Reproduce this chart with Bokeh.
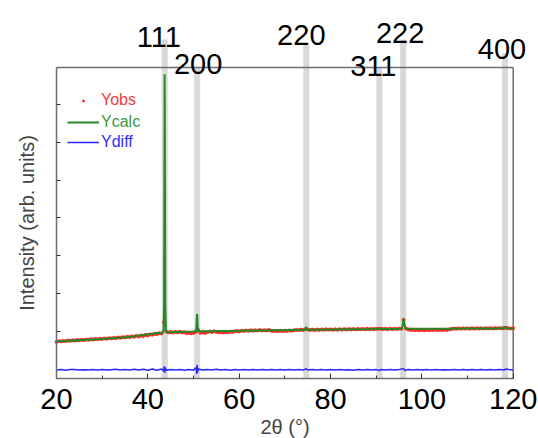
import numpy as np
from bokeh.plotting import figure
from bokeh.models import (Range1d, FixedTicker, SingleIntervalTicker,
                          Legend, LegendItem, ColumnDataSource, CustomJSTickFormatter)
from bokeh.core.properties import value
from bokeh.embed import file_html
from bokeh.resources import INLINE

# ---------------- data ----------------
TWO_THETA_OBS = 20 + 0.5 * np.arange(201)
Y_OBS = [
    735, 752, 748, 760, 755, 770, 762, 776, 770, 782,
    779, 790, 784, 796, 792, 803, 797, 810, 806, 815,
    812, 824, 818, 830, 826, 840, 834, 850, 844, 858,
    853, 868, 862, 880, 872, 895, 880, 902, 890, 918,
    905, 932, 925, 945, 940, 962, 958, 1250, 1010, 985,
    995, 980, 998, 985, 1000, 982, 990, 965, 975, 962,
    972, 1000, 1050, 975, 985, 970, 990, 1008, 995, 1015,
    1000, 985, 995, 982, 998, 990, 1005, 995, 1015, 1020,
    1010, 1030, 1022, 1035, 1025, 1040, 1030, 1042, 1034, 1046,
    1036, 1044, 1038, 1050, 1030, 1020, 1025, 1015, 1028, 1020,
    1030, 1022, 1035, 1028, 1040, 1050, 1045, 1058, 1050, 1065,
    1062, 1048, 1058, 1045, 1060, 1050, 1062, 1055, 1066, 1058,
    1062, 1052, 1066, 1056, 1068, 1058, 1070, 1060, 1072, 1062,
    1074, 1064, 1076, 1066, 1077, 1066, 1078, 1068, 1079, 1069,
    1080, 1078, 1080, 1072, 1082, 1068, 1083, 1070, 1084, 1072,
    1085, 1080, 1320, 1088, 1060, 1050, 1055, 1045, 1052, 1043,
    1052, 1042, 1050, 1044, 1052, 1045, 1054, 1046, 1055, 1048,
    1056, 1050, 1062, 1075, 1088, 1080, 1090, 1082, 1091, 1083,
    1092, 1084, 1093, 1085, 1094, 1086, 1094, 1087, 1095, 1088,
    1096, 1089, 1097, 1090, 1098, 1091, 1100, 1105, 1092, 1088,
    1094,
]

TWO_THETA_CALC = [
    20, 22, 24, 26, 28, 30, 32, 34, 36, 38,
    40, 42, 43.2, 43.45, 43.55, 43.62, 43.68, 43.74, 43.82, 43.95,
    44.2, 45, 46, 48, 50, 50.5, 50.65, 50.78, 50.9, 51.1,
    52, 54, 56, 58, 60, 62, 64, 66, 68, 70,
    72, 74, 74.45, 74.65, 74.85, 75.2, 76, 78, 80, 82,
    84, 86, 88, 90, 90.5, 90.7, 90.9, 91.2, 92, 94,
    95.6, 95.85, 96.0, 96.15, 96.4, 97, 98, 100, 102, 104,
    106, 108, 110, 112, 114, 116, 118, 118.25, 118.5, 119,
    120,
]
Y_CALC = [
    744, 757, 771, 785, 798, 812, 828, 846, 866, 900,
    935, 962, 978, 1040, 1600, 4800, 7790, 5200, 1700, 1060,
    990, 992, 996, 1002, 1006, 1012, 1120, 1466, 1130, 1018,
    1012, 1016, 1020, 1024, 1028, 1031, 1034, 1037, 1040, 1043,
    1046, 1049, 1055, 1132, 1060, 1051, 1052, 1055, 1058, 1062,
    1066, 1068, 1070, 1072, 1078, 1105, 1080, 1073, 1074, 1076,
    1082, 1200, 1335, 1210, 1085, 1079, 1080, 1081, 1082, 1083,
    1084, 1085, 1086, 1087, 1088, 1089, 1092, 1140, 1095, 1090,
    1090,
]

TWO_THETA_DIFF = [
    20, 21, 22, 23, 24, 25, 26, 27, 28, 29, 30, 31, 32, 33, 34, 35, 36, 37, 38, 39,
    40, 41, 42, 43, 43.5, 43.6, 43.7, 43.8, 44, 45, 46, 47, 48, 49, 50,
    50.6, 50.7, 50.8, 50.9, 51, 52, 53, 54, 55, 56, 57, 58, 59, 60, 61, 62, 63, 64,
    65, 66, 67, 68, 69, 70, 71, 72, 73, 74, 74.7, 75, 76, 77, 78, 79, 80, 81, 82,
    83, 84, 85, 86, 87, 88, 89, 90, 90.7, 91, 92, 93, 94, 95, 96, 96.3, 97, 98, 99,
    100, 101, 102, 103, 104, 105, 106, 107, 108, 109, 110, 111, 112, 113, 114, 115,
    116, 117, 118, 118.3, 119, 120,
]
Y_DIFF = [
    -5, 8, -10, 4, 10, -6, 3, -8, 6, -3, 9, -7, 2, 11, -4, 6, -9, 12, -6, 15,
    -10, 18, -12, 20, -40, 90, -80, 60, -15, 10, -6, 8, -12, 6, -10,
    60, -110, 130, -70, 20, -8, 10, -5, 12, -7, 5, -10, 8, -4, 9, -8, 6, -5,
    10, -7, 4, -9, 6, -3, 8, -6, 5, -8, 25, -5, 8, -6, 4, -9, 7, -4, 9,
    -7, 3, -10, 6, -5, 8, -6, 4, -18, 6, -8, 5, -4, 9, 30, -20, 6, -7, 4,
    -9, 7, -5, 8, -6, 3, -8, 6, -4, 9, -7, 5, -9, 6, -3, 8,
    -6, 4, -8, 20, 5, -3,
]

HKL = ["111", "200", "220", "311", "222", "400"]
HKL_TWO_THETA = [43.7, 50.8, 74.7, 90.7, 95.9, 118.2]
Y_TICKS = [1000, 2000, 3000, 4000, 5000, 6000, 7000]

assert len(Y_OBS) == len(TWO_THETA_OBS)
assert len(Y_CALC) == len(TWO_THETA_CALC)
assert len(Y_DIFF) == len(TWO_THETA_DIFF)

# ---------------- layout / style ----------------
W, H = 538, 438
X_MIN, X_MAX = 20, 120
BOX_LEFT_PX, BOX_RIGHT_PX = 56, 512.7
BOX_TOP_PX, BOX_BOTTOM_PX = 67, 378
Y_BOT = -230
UNITS_PER_PX = 1000 / 37.95
PX_PER_DEG = (BOX_RIGHT_PX - BOX_LEFT_PX) / (X_MAX - X_MIN)

X_START = X_MIN - BOX_LEFT_PX / PX_PER_DEG
X_END = X_MAX + (W - BOX_RIGHT_PX) / PX_PER_DEG


def px_to_y(py):
    return Y_BOT + (BOX_BOTTOM_PX - py) * UNITS_PER_PX


Y_START = px_to_y(H)
Y_END = px_to_y(0)
Y_BOX_TOP = px_to_y(BOX_TOP_PX)

FONT = "Liberation Sans"
FRAME_COLOR = "#6e6e6e"
LABEL_BASE_PX = [36, 63.4, 34.2, 65, 32.5, 48.3]
LABEL_DX = [-6, 1, -5, -6, -3, -3]
BAND_TOP_PX = [39, 67, 43, 67, 39, 53]

p = figure(width=W, height=H, x_range=Range1d(X_START, X_END),
           y_range=Range1d(Y_START, Y_END), output_backend="svg",
           toolbar_location=None, min_border=0)
p.outline_line_color = None
p.xgrid.grid_line_color = None
p.ygrid.grid_line_color = None
p.background_fill_color = "white"
p.border_fill_color = "white"

# x axis (drawn at the bottom of the box)
xa = p.xaxis[0]
xa.fixed_location = Y_BOT
xa.bounds = (X_MIN, X_MAX)
xa.ticker = SingleIntervalTicker(interval=20, num_minor_ticks=2)
xa.major_tick_in = 5
xa.major_tick_out = 0
xa.minor_tick_in = 3
xa.minor_tick_out = 0
xa.major_tick_line_color = "#333333"
xa.minor_tick_line_color = "#333333"
xa.axis_line_color = FRAME_COLOR
xa.axis_line_width = 1.5
xa.major_label_text_font = FONT
xa.major_label_text_font_size = "29px"
xa.major_label_text_color = "black"
xa.major_label_standoff = 10
xa.axis_label = "2θ (°)"
xa.axis_label_text_font = FONT
xa.axis_label_text_font_size = "20px"
xa.axis_label_text_font_style = "normal"
xa.axis_label_standoff = 4

# y axis (drawn at the left of the box)
ya = p.yaxis[0]
ya.fixed_location = X_MIN
ya.bounds = (Y_BOT, Y_BOX_TOP)
ya.ticker = FixedTicker(ticks=Y_TICKS, minor_ticks=[])
ya.formatter = CustomJSTickFormatter(code="return ''")
ya.major_tick_in = 4
ya.major_tick_out = 0
ya.major_tick_line_color = "#333333"
ya.axis_line_color = FRAME_COLOR
ya.axis_line_width = 1.5
ya.major_label_standoff = 0
ya.axis_label = "Intensity (arb. units)"
ya.axis_label_text_font = FONT
ya.axis_label_text_font_size = "20px"
ya.axis_label_text_font_style = "normal"
ya.axis_label_standoff = 19

# reflection bands
p.segment(x0=HKL_TWO_THETA, x1=HKL_TWO_THETA, y0=[Y_BOT] * len(HKL),
          y1=[px_to_y(v) for v in BAND_TOP_PX], line_width=6, line_color="#d9d9d9")

# top and right edges of the box
p.segment(x0=[X_MIN, X_MAX], x1=[X_MAX, X_MAX], y0=[Y_BOX_TOP, Y_BOT],
          y1=[Y_BOX_TOP, Y_BOX_TOP], line_color=FRAME_COLOR, line_width=1.5)

r_obs = p.scatter(TWO_THETA_OBS, Y_OBS, marker="circle", size=3,
                  fill_color="#ff2a2a", line_color="#ff2a2a")
r_calc = p.line(TWO_THETA_CALC, Y_CALC, line_color="#238a23", line_width=2)
r_diff = p.line(TWO_THETA_DIFF, Y_DIFF, line_color="#2626ff", line_width=1.5)

# hkl labels
lab_src = ColumnDataSource(dict(x=HKL_TWO_THETA, y=[px_to_y(v) for v in LABEL_BASE_PX],
                                text=HKL, dx=LABEL_DX))
p.text(x="x", y="y", text="text", x_offset="dx", source=lab_src,
       text_align="center", text_baseline="alphabetic",
       text_font=value(FONT), text_font_size="29px", text_color="black")

# legend: one per entry so each label gets its own colour
leg_specs = [("Yobs", r_obs, "#f03c3c", 329, 5),
             ("Ycalc", r_calc, "#3a9a3a", 307, 16),
             ("Ydiff", r_diff, "#3030f0", 287, 16)]
for name, rend, col, ypos, gh in leg_specs:
    leg = Legend(items=[LegendItem(label=name, renderers=[rend])],
                 location=(67, ypos), glyph_width=32, glyph_height=gh,
                 label_height=gh, label_standoff=2, padding=0, margin=0,
                 spacing=0, border_line_color=None, background_fill_alpha=0,
                 label_text_font=FONT, label_text_font_size="16px",
                 label_text_color=col)
    p.add_layout(leg, "center")

open("out.html", "w").write(file_html(p, INLINE))
